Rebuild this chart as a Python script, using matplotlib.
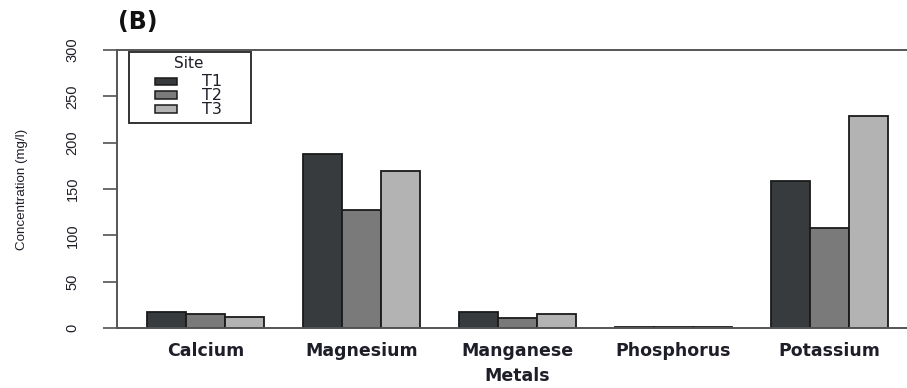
import matplotlib
matplotlib.use("Agg")
import matplotlib.pyplot as plt
from matplotlib.patches import Rectangle
import numpy as np

metals = ["Calcium", "Magnesium", "Manganese", "Phosphorus", "Potassium"]
sites = ["T1", "T2", "T3"]
t1 = [17, 188, 17, 1.2, 159]
t2 = [15, 127, 10.5, 1.2, 108]
t3 = [12, 169, 14.8, 1.2, 229]
colors = ["#383b3e", "#7a7a7a", "#b3b3b3"]

txt = "#1e1e28"
W, H = 907, 388
AX_L, AX_R, AX_T, AX_B = 117, 907, 50, 328

fig = plt.figure(figsize=(W / 100, H / 100), dpi=100)
ax = fig.add_axes([AX_L / W, (H - AX_B) / H, (AX_R - AX_L) / W, (AX_B - AX_T) / H])


def axfrac(px, py):
    # pixel position -> axes fraction
    return (px - AX_L) / (AX_R - AX_L), (AX_B - py) / (AX_B - AX_T)


# grouped bars, width 1 with one empty slot between groups
x0 = np.arange(len(metals)) * 4 + 1
for j, (vals, col) in enumerate(zip([t1, t2, t3], colors)):
    ax.bar(x0 + j, vals, width=1, align="edge", color=col,
           edgecolor="#1a1a1a", linewidth=1.3, zorder=2)

ax.set_xlim(0.23, 20.5)
ax.set_ylim(0, 300)
ax.set_yticks(np.arange(0, 301, 50))
ax.set_xticks(x0 + 1.5)
ax.set_xticklabels(metals, fontsize=12.5, fontweight="bold",
                   family="DejaVu Sans", color=txt)
ax.tick_params(axis="x", length=0, pad=10)
ax.tick_params(axis="y", length=10, width=1.1, color="#444444", pad=17,
               labelsize=10.5, labelcolor=txt)
for lbl in ax.get_yticklabels():
    lbl.set_rotation(90)
    lbl.set_va("center")
    lbl.set_family("Liberation Sans")

for side in ["top", "bottom", "left"]:
    ax.spines[side].set_color("#555555")
    ax.spines[side].set_linewidth(1.4)
ax.spines["right"].set_visible(False)

ax.set_ylabel("Concentration (mg/l)", fontsize=9.6, family="Liberation Sans",
              color=txt)
ax.yaxis.set_label_coords(axfrac(28, 0)[0], 0.5)
ax.set_xlabel("Metals", fontsize=12.5, fontweight="bold",
              family="DejaVu Sans", color=txt)
ax.xaxis.set_label_coords(axfrac(517, 0)[0], axfrac(0, 367)[1])

# legend box drawn by hand: frame, title, swatches, labels
fx0, fy0 = axfrac(129, 123)
fx1, fy1 = axfrac(251, 52)
ax.add_patch(Rectangle((fx0, fy0), fx1 - fx0, fy1 - fy0, transform=ax.transAxes,
                       facecolor="white", edgecolor="#333333", linewidth=1.4,
                       zorder=5, clip_on=False))
tx, ty = axfrac(189, 63)
ax.text(tx, ty, "Site", transform=ax.transAxes, ha="center", va="center",
        fontsize=11, family="DejaVu Sans", color=txt, zorder=6)
for py, col, lab in zip([81, 95, 109], colors, sites):
    sx0, sy0 = axfrac(155, py + 3.5)
    sx1, sy1 = axfrac(177, py - 3.5)
    ax.add_patch(Rectangle((sx0, sy0), sx1 - sx0, sy1 - sy0,
                           transform=ax.transAxes, facecolor=col,
                           edgecolor="#1a1a1a", linewidth=1.1, zorder=6,
                           clip_on=False))
    lx, ly = axfrac(202, py)
    ax.text(lx, ly, lab, transform=ax.transAxes, ha="left", va="center",
            fontsize=11.5, family="DejaVu Sans", color=txt, zorder=6)

fig.text(118 / W, 1 - 22 / H, "(B)", fontsize=17, fontweight="bold",
         va="center", ha="left", color="#111111")

fig.savefig("out.png", dpi=100)
